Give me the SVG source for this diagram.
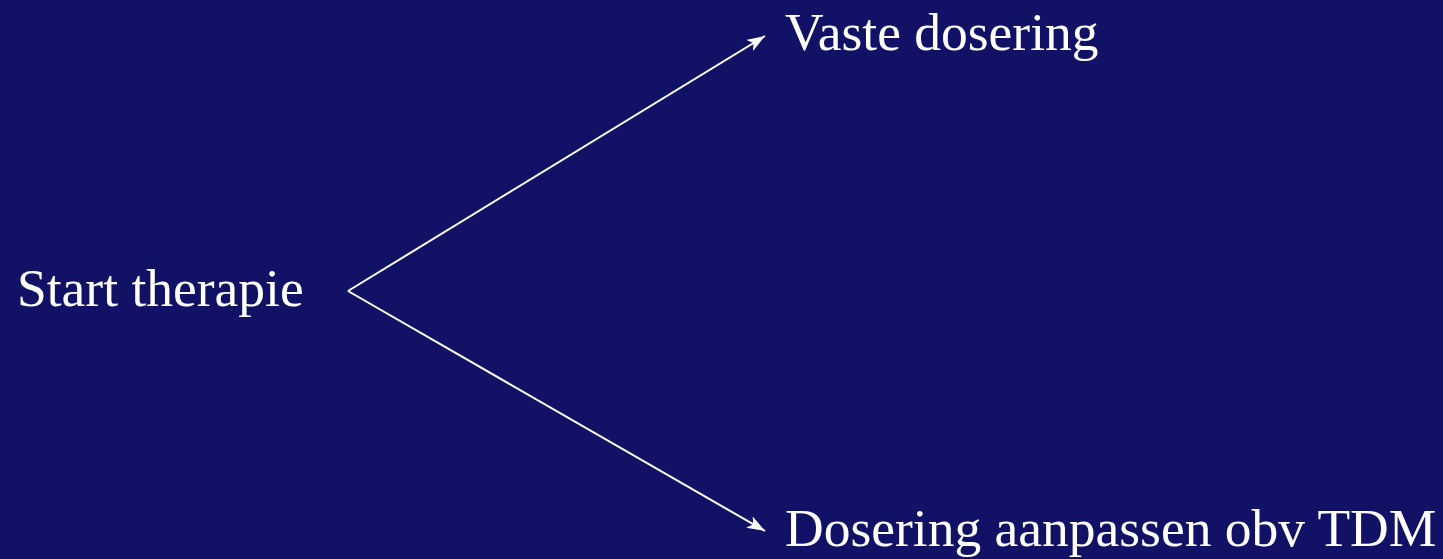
<svg xmlns="http://www.w3.org/2000/svg" width="1443" height="559" viewBox="0 0 1443 559">
  <style>
    .label { font-family: "Liberation Serif", "Times New Roman", serif; font-size: 53.5px; fill: #ffffff; }
    .edge { stroke: #ffffff; stroke-width: 2; fill: none; }
  </style>
  <defs>
    <marker id="head" viewBox="0 0 18 13" refX="18" refY="6.5" markerWidth="18" markerHeight="13" markerUnits="userSpaceOnUse" orient="auto">
      <path d="M0,0 L18,6.5 L0,13 L4.5,6.5 Z" fill="#ffffff"/>
    </marker>
  </defs>
  <rect width="1443" height="559" fill="#111166"/>
  <g id="connectors">
    <line class="edge" x1="348" y1="291" x2="765" y2="36" marker-end="url(#head)"/>
    <line class="edge" x1="348" y1="291" x2="765" y2="531" marker-end="url(#head)"/>
  </g>
  <g id="start">
    <text class="label" x="17" y="306">Start therapie</text>
  </g>
  <g id="fixed">
    <text class="label" x="785" y="50">Vaste dosering</text>
  </g>
  <g id="tdm">
    <text class="label" x="785" y="546">Dosering aanpassen obv TDM</text>
  </g>
</svg>
